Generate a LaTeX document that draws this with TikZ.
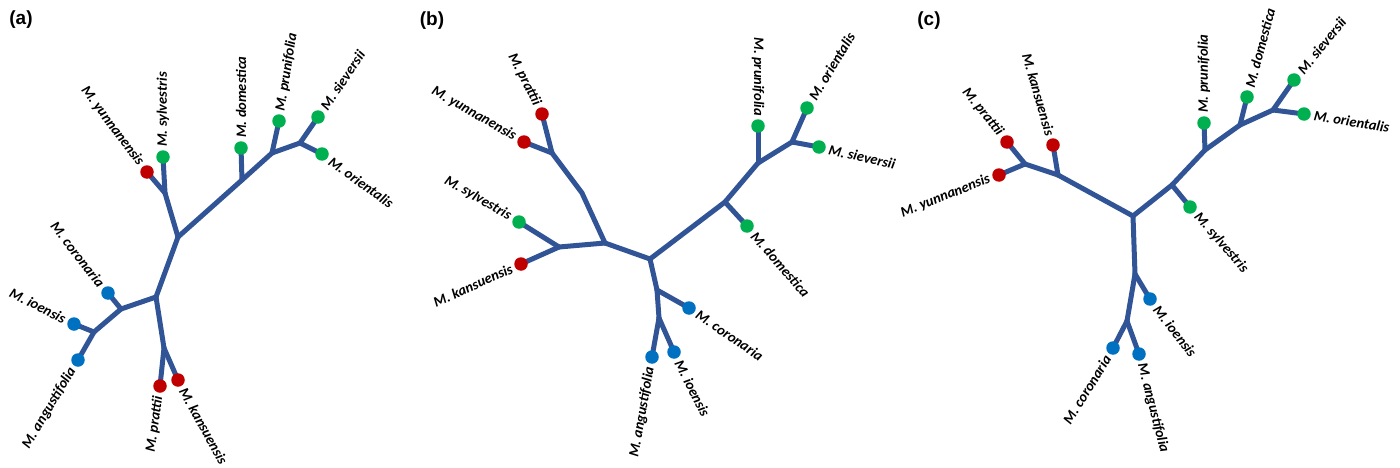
\documentclass[tikz,border=0pt]{standalone}
\usepackage{fontspec}
\setmainfont{Carlito}
\newfontfamily\panelfont{Liberation Sans}
\usetikzlibrary{calc}
\definecolor{branchblue}{RGB}{48,84,150}
\definecolor{dotred}{RGB}{192,0,0}
\definecolor{dotgreen}{RGB}{0,176,80}
\definecolor{dotblue}{RGB}{0,112,192}
\tikzset{
  br/.style={draw=branchblue,line width=5pt,line cap=round,line join=round},
  leafdot/.style={circle,inner sep=0pt,minimum size=13.5pt},
  dR/.style={leafdot,fill=dotred},
  dG/.style={leafdot,fill=dotgreen},
  dB/.style={leafdot,fill=dotblue},
  lbl/.style={inner sep=0pt,font=\fontsize{14.5}{16}\selectfont\bfseries\itshape},
  panel/.style={inner sep=0pt,font=\panelfont\fontsize{19}{21}\selectfont\bfseries}
}
\begin{document}
\begin{tikzpicture}[x=1pt,y=1pt]
\useasboundingbox (0,0) rectangle (1400,467);
% ---------------- (a) ----------------
\node[panel] (pa) at (21,447) {(a)};
\coordinate (a-yun) at (147,295);
\coordinate (a-syl) at (163,310);
\coordinate (a-j1) at (165,274);
\coordinate (a-n1) at (178,230);
\coordinate (a-j2) at (242,287);
\coordinate (a-dom) at (241,319);
\coordinate (a-j3) at (272,314);
\coordinate (a-pru) at (279,346);
\coordinate (a-j4) at (300,324);
\coordinate (a-sie) at (318,350);
\coordinate (a-ori) at (322,313);
\coordinate (a-n2) at (156,170);
\coordinate (a-j5) at (121,158);
\coordinate (a-cor) at (108,174);
\coordinate (a-j6) at (94,135);
\coordinate (a-ioe) at (74,143);
\coordinate (a-ang) at (78,107);
\coordinate (a-j7) at (164,119);
\coordinate (a-pra) at (160,81);
\coordinate (a-kan) at (178,87);
\draw[br] (a-yun) -- (a-j1);
\draw[br] (a-syl) -- (a-j1);
\draw[br] (a-j1) -- (a-n1);
\draw[br] (a-n1) -- (a-j2);
\draw[br] (a-j2) -- (a-dom);
\draw[br] (a-j2) -- (a-j3);
\draw[br] (a-j3) -- (a-pru);
\draw[br] (a-j3) -- (a-j4);
\draw[br] (a-j4) -- (a-sie);
\draw[br] (a-j4) -- (a-ori);
\draw[br] (a-n1) -- (a-n2);
\draw[br] (a-n2) -- (a-j5);
\draw[br] (a-j5) -- (a-cor);
\draw[br] (a-j5) -- (a-j6);
\draw[br] (a-j6) -- (a-ioe);
\draw[br] (a-j6) -- (a-ang);
\draw[br] (a-n2) -- (a-j7);
\draw[br] (a-j7) -- (a-pra);
\draw[br] (a-j7) -- (a-kan);
\node[dR] (a-yun-d) at (a-yun) {};
\node[dG] (a-syl-d) at (a-syl) {};
\node[dG] (a-dom-d) at (a-dom) {};
\node[dG] (a-pru-d) at (a-pru) {};
\node[dG] (a-sie-d) at (a-sie) {};
\node[dG] (a-ori-d) at (a-ori) {};
\node[dB] (a-cor-d) at (a-cor) {};
\node[dB] (a-ioe-d) at (a-ioe) {};
\node[dB] (a-ang-d) at (a-ang) {};
\node[dR] (a-pra-d) at (a-pra) {};
\node[dR] (a-kan-d) at (a-kan) {};
\node[lbl,rotate=-53,anchor=east] (a-yun-l) at ($(a-yun)+(127:10)$) {M. yunnanensis};
\node[lbl,rotate=90,anchor=west] (a-syl-l) at ($(a-syl)+(90:10)$) {M. sylvestris};
\node[lbl,rotate=90,anchor=west] (a-dom-l) at ($(a-dom)+(90:10)$) {M. domestica};
\node[lbl,rotate=81,anchor=west] (a-pru-l) at ($(a-pru)+(81:10)$) {M. prunifolia};
\node[lbl,rotate=56,anchor=west] (a-sie-l) at ($(a-sie)+(56:10)$) {M. sieversii};
\node[lbl,rotate=-36,anchor=west] (a-ori-l) at ($(a-ori)+(-36:10)$) {M. orientalis};
\node[lbl,rotate=-52,anchor=east] (a-cor-l) at ($(a-cor)+(128:10)$) {M. coronaria};
\node[lbl,rotate=-27,anchor=east] (a-ioe-l) at ($(a-ioe)+(153:10)$) {M. ioensis};
\node[lbl,rotate=59,anchor=east] (a-ang-l) at ($(a-ang)+(239:10)$) {M. angustifolia};
\node[lbl,rotate=82,anchor=east] (a-pra-l) at ($(a-pra)+(262:10)$) {M. prattii};
\node[lbl,rotate=-61,anchor=west] (a-kan-l) at ($(a-kan)+(-61:10)$) {M. kansuensis};
% ---------------- (b) ----------------
\node[panel] (pb) at (432,446) {(b)};
\coordinate (b-pra) at (542,353);
\coordinate (b-yun) at (524,325);
\coordinate (b-j1) at (552,314);
\coordinate (b-j1b) at (582,274);
\coordinate (b-n1) at (605,224);
\coordinate (b-syl) at (519,245);
\coordinate (b-kan) at (521,203);
\coordinate (b-j2) at (559,220);
\coordinate (b-n2) at (650,208);
\coordinate (b-j3) at (725,265);
\coordinate (b-dom) at (747,241);
\coordinate (b-j4) at (758,304);
\coordinate (b-pru) at (758,341);
\coordinate (b-j5) at (792,325);
\coordinate (b-ori) at (807,359);
\coordinate (b-sie) at (819,320);
\coordinate (b-j6) at (657,177);
\coordinate (b-cor) at (689,159);
\coordinate (b-j7) at (659,149);
\coordinate (b-ang) at (652,110);
\coordinate (b-ioe) at (674,115);
\draw[br] (b-pra) -- (b-j1);
\draw[br] (b-yun) -- (b-j1);
\draw[br] (b-j1) -- (b-j1b) -- (b-n1);
\draw[br] (b-syl) -- (b-j2);
\draw[br] (b-kan) -- (b-j2);
\draw[br] (b-j2) -- (b-n1);
\draw[br] (b-n1) -- (b-n2);
\draw[br] (b-n2) -- (b-j3);
\draw[br] (b-j3) -- (b-dom);
\draw[br] (b-j3) -- (b-j4);
\draw[br] (b-j4) -- (b-pru);
\draw[br] (b-j4) -- (b-j5);
\draw[br] (b-j5) -- (b-ori);
\draw[br] (b-j5) -- (b-sie);
\draw[br] (b-n2) -- (b-j6);
\draw[br] (b-j6) -- (b-cor);
\draw[br] (b-j6) -- (b-j7);
\draw[br] (b-j7) -- (b-ang);
\draw[br] (b-j7) -- (b-ioe);
\node[dR] (b-pra-d) at (b-pra) {};
\node[dR] (b-yun-d) at (b-yun) {};
\node[dG] (b-syl-d) at (b-syl) {};
\node[dR] (b-kan-d) at (b-kan) {};
\node[dG] (b-dom-d) at (b-dom) {};
\node[dG] (b-pru-d) at (b-pru) {};
\node[dG] (b-ori-d) at (b-ori) {};
\node[dG] (b-sie-d) at (b-sie) {};
\node[dB] (b-cor-d) at (b-cor) {};
\node[dB] (b-ang-d) at (b-ang) {};
\node[dB] (b-ioe-d) at (b-ioe) {};
\node[lbl,rotate=-63,anchor=east] (b-pra-l) at ($(b-pra)+(117:10)$) {M. prattii};
\node[lbl,rotate=-29.5,anchor=east] (b-yun-l) at ($(b-yun)+(150.5:10)$) {M. yunnanensis};
\node[lbl,rotate=-30,anchor=east] (b-syl-l) at ($(b-syl)+(150:10)$) {M. sylvestris};
\node[lbl,rotate=24,anchor=east] (b-kan-l) at ($(b-kan)+(204:10)$) {M. kansuensis};
\node[lbl,rotate=-90,anchor=east] (b-pru-l) at ($(b-pru)+(90:10)$) {M. prunifolia};
\node[lbl,rotate=59,anchor=west] (b-ori-l) at ($(b-ori)+(59:10)$) {M. orientalis};
\node[lbl,rotate=-13,anchor=west] (b-sie-l) at ($(b-sie)+(-13:10)$) {M. sieversii};
\node[lbl,rotate=-49,anchor=west] (b-dom-l) at ($(b-dom)+(-49:10)$) {M. domestica};
\node[lbl,rotate=-34,anchor=west] (b-cor-l) at ($(b-cor)+(-34:10)$) {M. coronaria};
\node[lbl,rotate=80,anchor=east] (b-ang-l) at ($(b-ang)+(260:10)$) {M. angustifolia};
\node[lbl,rotate=-63,anchor=west] (b-ioe-l) at ($(b-ioe)+(-63:10)$) {M. ioensis};
% ---------------- (c) ----------------
\node[panel] (pc) at (929,446) {(c)};
\coordinate (c-pra) at (1007,325);
\coordinate (c-yun) at (999,292);
\coordinate (c-j1) at (1025,303);
\coordinate (c-kan) at (1053,322);
\coordinate (c-j2) at (1058,292);
\coordinate (c-n1) at (1133,251);
\coordinate (c-j3) at (1172,282);
\coordinate (c-syl) at (1190,260);
\coordinate (c-j4) at (1205,317);
\coordinate (c-pru) at (1204,344);
\coordinate (c-j5) at (1240,342);
\coordinate (c-dom) at (1247,370);
\coordinate (c-j6) at (1273,357);
\coordinate (c-sie) at (1294,387);
\coordinate (c-ori) at (1304,353);
\coordinate (c-j7) at (1135,193);
\coordinate (c-ioe) at (1150,168);
\coordinate (c-j8) at (1127,146);
\coordinate (c-cor) at (1113,119);
\coordinate (c-ang) at (1139,113);
\draw[br] (c-pra) -- (c-j1);
\draw[br] (c-yun) -- (c-j1);
\draw[br] (c-j1) -- (c-j2);
\draw[br] (c-kan) -- (c-j2);
\draw[br] (c-j2) -- (c-n1);
\draw[br] (c-n1) -- (c-j3);
\draw[br] (c-j3) -- (c-syl);
\draw[br] (c-j3) -- (c-j4);
\draw[br] (c-j4) -- (c-pru);
\draw[br] (c-j4) -- (c-j5);
\draw[br] (c-j5) -- (c-dom);
\draw[br] (c-j5) -- (c-j6);
\draw[br] (c-j6) -- (c-sie);
\draw[br] (c-j6) -- (c-ori);
\draw[br] (c-n1) -- (c-j7);
\draw[br] (c-j7) -- (c-ioe);
\draw[br] (c-j7) -- (c-j8);
\draw[br] (c-j8) -- (c-cor);
\draw[br] (c-j8) -- (c-ang);
\node[dR] (c-pra-d) at (c-pra) {};
\node[dR] (c-yun-d) at (c-yun) {};
\node[dR] (c-kan-d) at (c-kan) {};
\node[dG] (c-syl-d) at (c-syl) {};
\node[dG] (c-pru-d) at (c-pru) {};
\node[dG] (c-dom-d) at (c-dom) {};
\node[dG] (c-sie-d) at (c-sie) {};
\node[dG] (c-ori-d) at (c-ori) {};
\node[dB] (c-ioe-d) at (c-ioe) {};
\node[dB] (c-cor-d) at (c-cor) {};
\node[dB] (c-ang-d) at (c-ang) {};
\node[lbl,rotate=-51,anchor=east] (c-pra-l) at ($(c-pra)+(129:10)$) {M. prattii};
\node[lbl,rotate=-74,anchor=east] (c-kan-l) at ($(c-kan)+(106:10)$) {M. kansuensis};
\node[lbl,rotate=21.5,anchor=east] (c-yun-l) at ($(c-yun)+(201.5:10)$) {M. yunnanensis};
\node[lbl,rotate=90,anchor=west] (c-pru-l) at ($(c-pru)+(90:10)$) {M. prunifolia};
\node[lbl,rotate=75,anchor=west] (c-dom-l) at ($(c-dom)+(75:10)$) {M. domestica};
\node[lbl,rotate=51,anchor=west] (c-sie-l) at ($(c-sie)+(51:10)$) {M. sieversii};
\node[lbl,rotate=-9,anchor=west] (c-ori-l) at ($(c-ori)+(-9:10)$) {M. orientalis};
\node[lbl,rotate=-49,anchor=west] (c-syl-l) at ($(c-syl)+(-49:10)$) {M. sylvestris};
\node[lbl,rotate=-52,anchor=west] (c-ioe-l) at ($(c-ioe)+(-52:10)$) {M. ioensis};
\node[lbl,rotate=58,anchor=east] (c-cor-l) at ($(c-cor)+(238:10)$) {M. coronaria};
\node[lbl,rotate=-75.5,anchor=west] (c-ang-l) at ($(c-ang)+(-75.5:10)$) {M. angustifolia};
\end{tikzpicture}
\end{document}
